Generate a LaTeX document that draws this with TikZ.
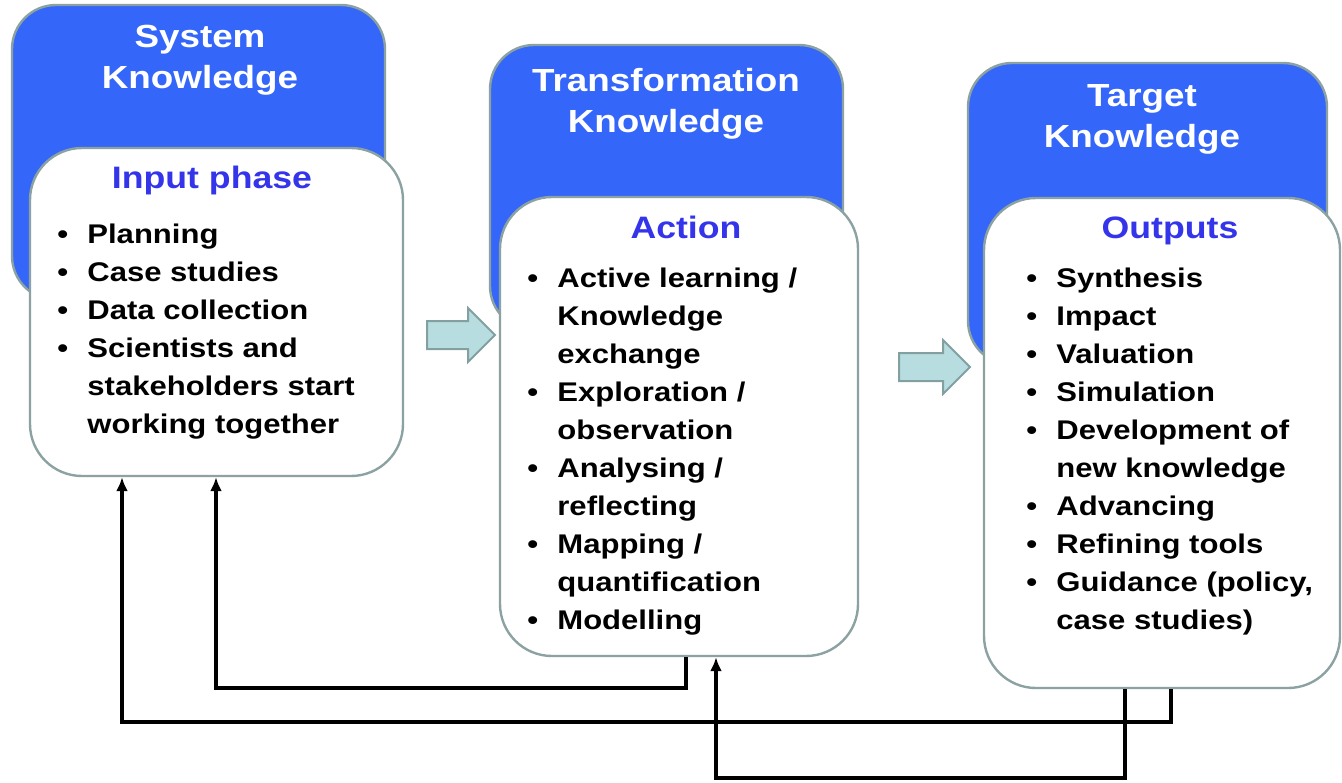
\documentclass[tikz,border=0pt]{standalone}
\usepackage{fontspec}
\setmainfont{Liberation Sans}[FakeStretch=1.15]
\usetikzlibrary{arrows.meta,shapes.arrows}

\definecolor{kblue}{RGB}{52,102,250}
\definecolor{boxgray}{RGB}{140,162,162}
\definecolor{phaseblue}{RGB}{52,52,235}
\definecolor{arrowfill}{RGB}{183,221,224}
\definecolor{arrowgray}{RGB}{130,160,160}

\tikzset{
  knowbox/.style={draw=boxgray, line width=1.2pt, fill=kblue, rounded corners=22pt, inner sep=0pt},
  phasebox/.style={draw=boxgray, line width=1.2pt, fill=white, rounded corners=26pt, inner sep=0pt},
  knowtitle/.style={text=white, font=\fontsize{16}{20.5}\selectfont\bfseries, anchor=base, inner sep=0pt},
  phasetitle/.style={text=phaseblue, font=\fontsize{15.5}{19}\selectfont\bfseries, anchor=base, inner sep=0pt},
  items/.style={font=\fontsize{13.5}{19}\selectfont\bfseries, anchor=base west, inner sep=0pt},
  flowarrow/.style={single arrow, draw=arrowgray, fill=arrowfill, line width=1pt, minimum width=27pt, inner sep=6.5pt, single arrow head extend=6.5pt},
  fb/.style={line width=1.8pt, -{Latex[length=7pt,width=6pt]}}
}

\begin{document}
\begin{tikzpicture}[x=0.5pt,y=-0.5pt]
\useasboundingbox (0,0) rectangle (1342,782);

% knowledge boxes
\node[knowbox, minimum width=186.5pt, minimum height=147.5pt] (sysK) at (198.5,152.5) {};
\node[knowbox, minimum width=176.5pt, minimum height=142.5pt] (transK) at (666.5,187.5) {};
\node[knowbox, minimum width=179.5pt, minimum height=151pt] (targK) at (1147.5,214) {};

\node[knowtitle] (sysT) at (200,47) {\begin{tabular}[t]{@{}c@{}}System\\Knowledge\end{tabular}};
\node[knowtitle] (transT) at (666,91) {\begin{tabular}[t]{@{}c@{}}Transformation\\Knowledge\end{tabular}};
\node[knowtitle] (targT) at (1142,106) {\begin{tabular}[t]{@{}c@{}}Target\\Knowledge\end{tabular}};

% phase boxes
\node[phasebox, minimum width=186.5pt, minimum height=164pt] (inp) at (216.5,312) {};
\node[phasebox, minimum width=179pt, minimum height=229.5pt] (act) at (679,426.5) {};
\node[phasebox, minimum width=178pt, minimum height=245pt] (outp) at (1162,443) {};

\node[phasetitle] (inpT) at (212,188) {Input phase};
\node[phasetitle] (actT) at (686,238) {Action};
\node[phasetitle] (outpT) at (1170,238) {Outputs};

\node[items] (inpL) at (57,243) {\begin{tabular}[t]{@{}p{15pt}@{}l@{}}
\textbullet & Planning\\
\textbullet & Case studies\\
\textbullet & Data collection\\
\textbullet & Scientists and\\
 & stakeholders start\\
 & working together
\end{tabular}};

\node[items] (actL) at (527,287) {\begin{tabular}[t]{@{}p{15pt}@{}l@{}}
\textbullet & Active learning /\\
 & Knowledge\\
 & exchange\\
\textbullet & Exploration /\\
 & observation\\
\textbullet & Analysing /\\
 & reflecting\\
\textbullet & Mapping /\\
 & quantification\\
\textbullet & Modelling
\end{tabular}};

\node[items] (outpL) at (1026,287) {\begin{tabular}[t]{@{}p{15pt}@{}l@{}}
\textbullet & Synthesis\\
\textbullet & Impact\\
\textbullet & Valuation\\
\textbullet & Simulation\\
\textbullet & Development of\\
 & new knowledge\\
\textbullet & Advancing\\
\textbullet & Refining tools\\
\textbullet & Guidance (policy,\\
 & case studies)
\end{tabular}};

% flow arrows
\node[flowarrow, minimum height=34pt] (flow1) at (454,335) {};
\node[flowarrow, minimum height=35.5pt] (flow2) at (927.5,367) {};

% feedback loops
\coordinate (fbA) at (686,688);
\coordinate (fbB) at (216,688);
\coordinate (fbC) at (1171,722);
\coordinate (fbD) at (122,722);
\coordinate (fbE) at (1125,778);
\coordinate (fbF) at (716,778);

\draw[fb] (act.south -| fbA) -- (fbA) -- (fbB) -- (inp.south -| fbB);
\draw[fb] (outp.south -| fbC) -- (fbC) -- (fbD) -- (inp.south -| fbD);
\draw[fb] (outp.south -| fbE) -- (fbE) -- (fbF) -- (act.south -| fbF);
\end{tikzpicture}
\end{document}
